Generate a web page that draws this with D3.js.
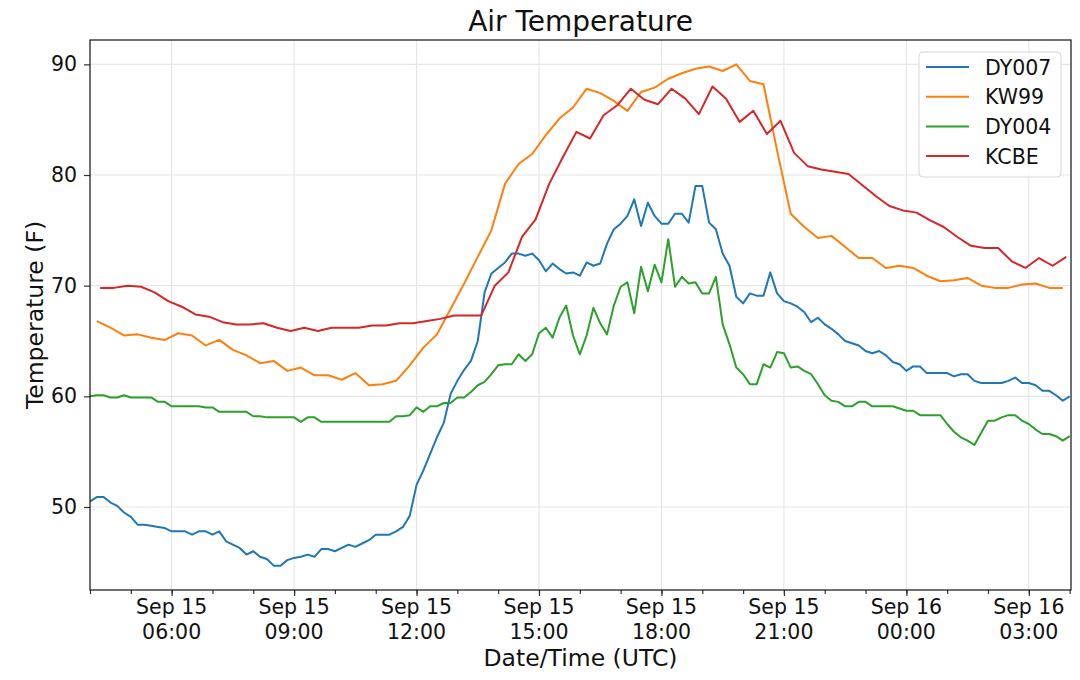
<!DOCTYPE html>
<html>
<head>
<meta charset="utf-8">
<script src="https://cdn.jsdelivr.net/npm/d3@7"></script>
<style>
  body { margin: 0; background: #fff; }
  svg text { font-family: "DejaVu Sans", sans-serif; fill: #111; }
</style>
</head>
<body>
<div id="chart"></div>
<script>
// Données (°F)

// DY007 et DY004 : un point toutes les 10 minutes depuis le 15/09 04:00 UTC
var dyStart = Date.UTC(2018, 8, 15, 4, 0);
var dyStep = 10;

var dy007 = [
  50.5, 50.9, 50.9, 50.4, 50.1, 49.5,
  49.1, 48.4, 48.4, 48.3, 48.2, 48.1,
  47.8, 47.8, 47.8, 47.5, 47.8, 47.8,
  47.5, 47.8, 46.9, 46.6, 46.3, 45.7,
  46.0, 45.5, 45.3, 44.7, 44.7, 45.2,
  45.4, 45.5, 45.7, 45.5, 46.2, 46.2,
  46.0, 46.3, 46.6, 46.4, 46.7, 47.0,
  47.5, 47.5, 47.5, 47.8, 48.2, 49.2,
  52.0, 53.3, 54.8, 56.3, 57.6, 60.2,
  61.4, 62.4, 63.2, 65.0, 69.4, 71.1,
  71.6, 72.1, 72.9, 72.9, 72.7, 72.9,
  72.3, 71.3, 72.0, 71.5, 71.1, 71.2,
  70.9, 72.1, 71.8, 72.0, 73.8, 75.1,
  75.6, 76.3, 77.8, 75.4, 77.5, 76.3,
  75.6, 75.6, 76.5, 76.5, 75.7, 79.0,
  79.0, 75.7, 75.1, 72.9, 71.8, 69.0,
  68.4, 69.3, 69.1, 69.1, 71.2, 69.3,
  68.6, 68.4, 68.1, 67.6, 66.7, 67.1,
  66.5, 66.1, 65.6, 65.0, 64.8, 64.6,
  64.1, 63.9, 64.1, 63.7, 63.1, 62.9,
  62.3, 62.7, 62.7, 62.1, 62.1, 62.1,
  62.1, 61.8, 62.0, 62.0, 61.4, 61.2,
  61.2, 61.2, 61.2, 61.4, 61.7, 61.2,
  61.2, 61.0, 60.5, 60.5, 60.1, 59.6,
  60.0
];

var dy004 = [
  60.0, 60.1, 60.1, 59.9, 59.9, 60.1,
  59.9, 59.9, 59.9, 59.9, 59.5, 59.5,
  59.1, 59.1, 59.1, 59.1, 59.1, 59.0,
  59.0, 58.6, 58.6, 58.6, 58.6, 58.6,
  58.2, 58.2, 58.1, 58.1, 58.1, 58.1,
  58.1, 57.7, 58.1, 58.1, 57.7, 57.7,
  57.7, 57.7, 57.7, 57.7, 57.7, 57.7,
  57.7, 57.7, 57.7, 58.2, 58.2, 58.3,
  59.0, 58.6, 59.1, 59.1, 59.4, 59.4,
  59.9, 59.9, 60.4, 61.0, 61.3, 62.0,
  62.8, 62.9, 62.9, 63.8, 63.2, 63.8,
  65.7, 66.2, 65.3, 67.1, 68.2, 65.5,
  63.8, 65.5, 68.0, 66.6, 65.6, 68.2,
  69.9, 70.3, 67.5, 71.7, 69.5, 71.9,
  70.3, 74.2, 69.9, 70.8, 70.2, 70.3,
  69.3, 69.3, 70.8, 66.5, 64.7, 62.6,
  62.0, 61.1, 61.1, 62.9, 62.6, 64.0,
  63.9, 62.6, 62.7, 62.3, 62.0, 61.1,
  60.1, 59.6, 59.5, 59.1, 59.1, 59.5,
  59.5, 59.1, 59.1, 59.1, 59.1, 58.9,
  58.7, 58.7, 58.3, 58.3, 58.3, 58.3,
  57.5, 56.8, 56.3, 56.0, 55.6, 56.7,
  57.8, 57.8, 58.1, 58.3, 58.3, 57.8,
  57.5, 57.0, 56.6, 56.6, 56.4, 56.0,
  56.4
];

// KW99 : toutes les 20 minutes depuis 04:10
var kw99Start = Date.UTC(2018, 8, 15, 4, 10);
var kw99 = [
  66.8, 66.2, 65.5, 65.6, 65.3, 65.1,
  65.7, 65.5, 64.6, 65.1, 64.2, 63.7,
  63.0, 63.2, 62.3, 62.6, 61.9, 61.9,
  61.5, 62.1, 61.0, 61.1, 61.4, 62.8,
  64.4, 65.6, 67.9, 70.2, 72.6, 75.0,
  79.2, 81.0, 81.9, 83.6, 85.1, 86.1,
  87.8, 87.4, 86.7, 85.8, 87.5, 87.9,
  88.7, 89.2, 89.6, 89.8, 89.4, 90.0,
  88.5, 88.2, 82.2, 76.5, 75.3, 74.3,
  74.5, 73.5, 72.5, 72.5, 71.6, 71.8,
  71.6, 70.9, 70.4, 70.5, 70.7, 70.0,
  69.8, 69.8, 70.1, 70.2, 69.8, 69.8
];

// KCBE : toutes les 20 minutes depuis 04:15
var kcbeStart = Date.UTC(2018, 8, 15, 4, 15);
var kcbe = [
  69.8, 69.8, 70.0, 69.9, 69.4, 68.6,
  68.1, 67.4, 67.2, 66.7, 66.5, 66.5,
  66.6, 66.2, 65.9, 66.2, 65.9, 66.2,
  66.2, 66.2, 66.4, 66.4, 66.6, 66.6,
  66.8, 67.0, 67.3, 67.3, 67.3, 70.0,
  71.2, 74.4, 76.0, 79.2, 81.6, 83.9,
  83.3, 85.4, 86.3, 87.8, 86.8, 86.4,
  87.8, 86.9, 85.5, 88.0, 86.9, 84.8,
  85.8, 83.7, 84.9, 82.0, 80.8, 80.5,
  80.3, 80.1, 79.1, 78.1, 77.2, 76.8,
  76.6, 75.9, 75.3, 74.4, 73.6, 73.4,
  73.4, 72.2, 71.6, 72.5, 71.8, 72.6
];
var stationStep = 20;

var seriesNames = ["DY007", "KW99", "DY004", "KCBE"];
var seriesColors = ["#1f77b4", "#ff7f0e", "#2ca02c", "#d62728"];
var yTicks = [50, 60, 70, 80, 90];

var xDomain = [new Date(Date.UTC(2018, 8, 15, 4, 0)), new Date(Date.UTC(2018, 8, 16, 4, 2))];
var yDomain = [42.5, 92.2];


//Création du svg
var width = 1080, height = 680;
var pos = {"left": 90, "right": 1071, "top": 40, "bottom": 590};

var svg = d3.select("#chart")
            .append("svg")
            .attr("width", width)
            .attr("height", height);

var x = d3.scaleUtc().domain(xDomain).range([pos.left, pos.right]);
var y = d3.scaleLinear().domain(yDomain).range([pos.bottom, pos.top]);

// construit les points {t, v} d'une série régulière
function toPoints(values, start, stepMin)
{
	return values.map(function(v, i){ return {"t": new Date(start + i*stepMin*60000), "v": v}; });
}

var data = [
	toPoints(dy007, dyStart, dyStep),
	toPoints(kw99, kw99Start, stationStep),
	toPoints(dy004, dyStart, dyStep),
	toPoints(kcbe, kcbeStart, stationStep)
];

var majorTicks = d3.utcHour.every(3).range(new Date(Date.UTC(2018, 8, 15, 6)), xDomain[1]);
var minorTicks = d3.utcHour.every(1).range(xDomain[0], xDomain[1]);

//Grille
var grid = svg.append("g").attr("class", "grid");

grid.selectAll(".gx")
	.data(majorTicks)
	.enter()
		.append("line")
		.attr("x1", function(d){return x(d);})
		.attr("x2", function(d){return x(d);})
		.attr("y1", pos.top)
		.attr("y2", pos.bottom)
		.attr("stroke", "#e6e6e6")
		.attr("stroke-width", 1.2);

grid.selectAll(".gy")
	.data(yTicks)
	.enter()
		.append("line")
		.attr("x1", pos.left)
		.attr("x2", pos.right)
		.attr("y1", function(d){return y(d);})
		.attr("y2", function(d){return y(d);})
		.attr("stroke", "#e6e6e6")
		.attr("stroke-width", 1.2);

//Courbes
var line = d3.line()
	.x(function(d){return x(d.t);})
	.y(function(d){return y(d.v);});

svg.append("defs").append("clipPath").attr("id", "clip")
	.append("rect")
	.attr("x", pos.left).attr("y", pos.top)
	.attr("width", pos.right - pos.left).attr("height", pos.bottom - pos.top);

svg.append("g")
	.attr("clip-path", "url(#clip)")
	.selectAll("path")
	.data(data)
	.enter()
		.append("path")
		.attr("d", line)
		.attr("fill", "none")
		.attr("stroke", function(d, i){return seriesColors[i];})
		.attr("stroke-width", 2)
		.attr("stroke-linejoin", "round");

//Axes
var xAxis = svg.append("g").attr("transform", "translate(0," + pos.bottom + ")");

xAxis.call(d3.axisBottom(x).tickValues(minorTicks).tickSize(4).tickFormat(""));
xAxis.select(".domain").remove();

var xMajor = svg.append("g").attr("transform", "translate(0," + pos.bottom + ")")
	.call(d3.axisBottom(x).tickValues(majorTicks).tickSize(6).tickFormat(""));
xMajor.select(".domain").remove();

var fmtDay = d3.utcFormat("%b %d"), fmtHour = d3.utcFormat("%H:%M");

var labels = svg.append("g").selectAll("text")
	.data(majorTicks)
	.enter()
		.append("text")
		.attr("text-anchor", "middle")
		.attr("font-size", 20.5);

labels.append("tspan")
	.attr("x", function(d){return x(d);})
	.attr("y", 614)
	.text(function(d){return fmtDay(d);});

labels.append("tspan")
	.attr("x", function(d){return x(d);})
	.attr("y", 639)
	.text(function(d){return fmtHour(d);});

var yAxis = svg.append("g").attr("transform", "translate(" + pos.left + ",0)")
	.call(d3.axisLeft(y).tickValues(yTicks).tickSize(6).tickPadding(7));
yAxis.select(".domain").remove();
yAxis.selectAll("text").attr("font-size", 20.5).style("font-family", "DejaVu Sans").attr("fill", "#111");

svg.selectAll(".tick line").attr("stroke", "#333").attr("stroke-width", 1.2);

//Cadre
svg.append("rect")
	.attr("x", pos.left).attr("y", pos.top)
	.attr("width", pos.right - pos.left).attr("height", pos.bottom - pos.top)
	.attr("fill", "none")
	.attr("stroke", "#111")
	.attr("stroke-width", 1.2);

//Titres
svg.append("text")
	.attr("x", (pos.left + pos.right) / 2)
	.attr("y", 31)
	.attr("text-anchor", "middle")
	.attr("font-size", 28)
	.text("Air Temperature");

svg.append("text")
	.attr("x", (pos.left + pos.right) / 2)
	.attr("y", 666)
	.attr("text-anchor", "middle")
	.attr("font-size", 23.5)
	.text("Date/Time (UTC)");

svg.append("text")
	.attr("transform", "translate(43," + ((pos.top + pos.bottom) / 2) + ") rotate(-90)")
	.attr("text-anchor", "middle")
	.attr("font-size", 23.5)
	.text("Temperature (F)");

//Légende
var legend = svg.append("g").attr("transform", "translate(919,52)");

legend.append("rect")
	.attr("width", 142)
	.attr("height", 125)
	.attr("rx", 4)
	.attr("fill", "#fff")
	.attr("fill-opacity", 0.8)
	.attr("stroke", "#d6d6d6");

var items = legend.selectAll(".item")
	.data(seriesNames)
	.enter()
		.append("g")
		.attr("transform", function(d, i){return "translate(0," + (15 + i*29.7) + ")";});

items.append("line")
	.attr("x1", 7).attr("x2", 50)
	.attr("stroke", function(d, i){return seriesColors[i];})
	.attr("stroke-width", 2);

items.append("text")
	.attr("x", 66)
	.attr("y", 7.5)
	.attr("font-size", 20.5)
	.text(function(d){return d;});
</script>
</body>
</html>
